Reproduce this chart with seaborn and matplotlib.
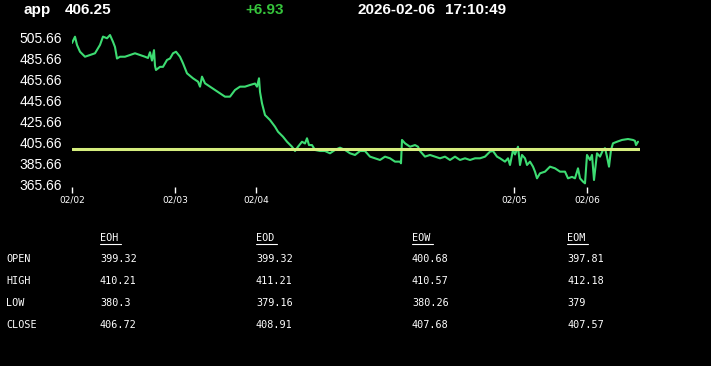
import matplotlib
matplotlib.use("Agg")
import matplotlib.pyplot as plt
import seaborn as sns
import pandas as pd

# ---------------- data ----------------
symbol = "app"
last_price = "406.25"
change = "+6.93"
stamp_date = "2026-02-06"
stamp_time = "17:10:49"
ref_level = 399.32

# sample index (trading-time index) and price, 10 per line
t = [0, 3, 5, 8, 13, 18, 23, 28, 31, 35,
     38, 41, 43, 45, 48, 53, 58, 63, 68, 73,
     76, 78, 80, 82, 83, 84, 88, 91, 95, 98,
     101, 104, 108, 111, 115, 121, 126, 128, 130, 133,
     138, 143, 148, 153, 158, 163, 168, 173, 178, 183,
     185, 187, 188, 190, 193, 198, 203, 206, 211, 215,
     220, 223, 226, 230, 233, 235, 237, 240, 243, 248,
     253, 258, 263, 268, 273, 278, 283, 288, 293, 298,
     303, 308, 313, 318, 323, 328, 329, 330, 333, 338,
     343, 346, 348, 353, 358, 363, 368, 373, 378, 383,
     388, 393, 398, 403, 408, 413, 418, 421, 425, 428,
     433, 436, 438, 441, 443, 446, 448, 450, 453, 455,
     458, 461, 463, 465, 468, 473, 478, 483, 488, 493,
     496, 500, 503, 506, 508, 511, 513, 515, 518, 520,
     522, 525, 528, 531, 533, 535, 537, 539, 541, 545,
     550, 556, 561, 563, 564, 566]
price = [500.9, 506.9, 499.0, 492.5, 487.7, 489.4, 491.0, 499.0, 507.0, 505.4,
         508.5, 502.0, 497.0, 486.0, 487.7, 487.7, 489.4, 491.0, 489.4, 487.7,
         486.5, 492.0, 484.0, 494.0, 479.0, 475.0, 478.0, 478.0, 484.6, 486.0,
         491.0, 492.5, 487.7, 481.4, 471.8, 467.0, 463.8, 459.0, 468.6, 462.2,
         459.0, 455.8, 452.6, 449.4, 449.4, 455.8, 459.0, 459.0, 460.6, 462.0,
         459.0, 467.0, 454.0, 443.0, 431.8, 427.0, 420.6, 415.8, 411.0, 406.2,
         401.4, 397.3, 401.4, 406.2, 404.5, 409.5, 403.0, 403.0, 398.3, 397.3,
         397.3, 395.1, 398.3, 400.5, 398.3, 395.1, 393.5, 397.3, 397.3, 391.9,
         390.3, 388.7, 391.9, 390.3, 387.1, 387.1, 385.5, 407.9, 404.7, 401.4,
         403.0, 401.4, 397.3, 391.9, 393.5, 391.9, 390.3, 391.9, 388.7, 391.9,
         388.7, 390.3, 388.7, 390.3, 390.3, 391.9, 396.7, 397.3, 391.9, 390.3,
         387.1, 390.3, 383.9, 398.3, 394.0, 401.4, 383.9, 393.5, 390.3, 383.9,
         387.1, 382.3, 377.5, 371.1, 375.9, 377.5, 382.3, 380.7, 377.5, 377.5,
         371.1, 372.5, 371.1, 380.7, 371.1, 367.9, 366.3, 393.5, 388.7, 393.5,
         369.5, 395.1, 391.9, 398.3, 400.0, 391.9, 382.3, 398.3, 404.7, 406.2,
         407.9, 408.8, 407.9, 407.0, 403.0, 406.2]

tick_pos = [0, 103, 184, 442, 515]
tick_labels = ["02/02", "02/03", "02/04", "02/05", "02/06"]
y_ticks = [365.66, 385.66, 405.66, 425.66, 445.66, 465.66, 485.66, 505.66]

table_cols = ["EOH", "EOD", "EOW", "EOM"]
table_rows = ["OPEN", "HIGH", "LOW", "CLOSE"]
eoh = ["399.32", "410.21", "380.3", "406.72"]
eod = ["399.32", "411.21", "379.16", "408.91"]
eow = ["400.68", "410.57", "380.26", "407.68"]
eom = ["397.81", "412.18", "379", "407.57"]

# ---------------- figure ----------------
sns.set_theme(style="dark")
plt.rcParams["font.family"] = ["Liberation Sans", "DejaVu Sans"]

W, H = 711, 366
fig = plt.figure(figsize=(W / 100, H / 100), dpi=100, facecolor="black")

y_lo, y_hi = 363.0, 512.0
ppu = 1.043
top_px = 38 - (y_hi - 505.66) * ppu
bot_px = 184 + (365.66 - y_lo) * ppu
left_px, right_px = 72, 640
ax = fig.add_axes([left_px / W, 1 - bot_px / H, (right_px - left_px) / W, (bot_px - top_px) / H])
ax.set_facecolor("black")

df = pd.DataFrame({"t": t, "price": price})
sns.lineplot(data=df, x="t", y="price", ax=ax, color="#3ddc72", linewidth=1.5)
ax.axhline(ref_level, color="#d6ee7e", linewidth=2.2, xmin=0, xmax=1)

ax.set_xlim(0, right_px - left_px)
ax.set_ylim(y_lo, y_hi)
ax.set_yticks(y_ticks)
ax.set_yticklabels([f"{v:.2f}" for v in y_ticks], color="white", fontsize=10)
ax.set_xticks(tick_pos)
ax.set_xticklabels(tick_labels, color="white", fontsize=6.5, family=["DejaVu Sans"])
ax.tick_params(axis="y", length=0, pad=7)
ax.tick_params(axis="x", length=4, width=1, color="white", direction="out", pad=2, bottom=True)
ax.set_xlabel("")
ax.set_ylabel("")
ax.grid(False)
for s in ax.spines.values():
    s.set_visible(False)

# header
hdr = dict(color="white", fontsize=11, fontweight="bold", va="center", ha="left")
fig.text(23 / W, 1 - 10 / H, symbol, **hdr)
fig.text(65 / W, 1 - 10 / H, last_price, **hdr)
fig.text(245 / W, 1 - 10 / H, change, **{**hdr, "color": "#36c43c"})
fig.text(357 / W, 1 - 10 / H, stamp_date, **hdr)
fig.text(445 / W, 1 - 10 / H, stamp_time, **hdr)

# table
mono = dict(color="white", fontsize=7.3, family=["DejaVu Sans Mono"], va="center", ha="left")
col_x = [100, 256, 412, 567]
row_y = [259, 281, 303, 325]
for cx, name in zip(col_x, table_cols):
    fig.text(cx / W, 1 - 238 / H, name, **mono)
    fig.add_artist(plt.Line2D([cx / W, (cx + 21) / W], [1 - 244 / H, 1 - 244 / H],
                              color="white", linewidth=0.8))
for ry, name in zip(row_y, table_rows):
    fig.text(6 / W, 1 - ry / H, name, **mono)
for cx, col in zip(col_x, [eoh, eod, eow, eom]):
    for ry, val in zip(row_y, col):
        fig.text(cx / W, 1 - ry / H, val, **mono)

fig.savefig("out.png", dpi=100, facecolor="black")
